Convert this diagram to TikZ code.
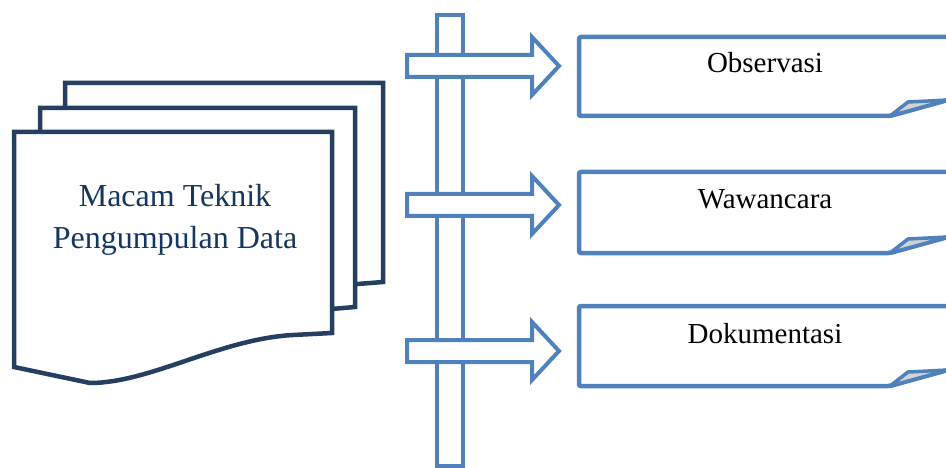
\documentclass[tikz,border=0pt]{standalone}
\usepackage{fontspec}
\setmainfont{Liberation Serif}
\usepackage{xcolor}
\usepackage{tikz}
\usetikzlibrary{positioning, calc}

\definecolor{navy}{HTML}{243F60}
\definecolor{navytext}{HTML}{17365D}
\definecolor{accent}{HTML}{4F81BD}

\begin{document}
\begin{tikzpicture}[x=1pt, y=-1pt,
  page/.style={draw=navy, line width=4.5pt, fill=white, line join=miter},
  bar/.style={draw=accent, line width=4pt, fill=white},
  blockarrow/.style={draw=accent, line width=4pt, fill=white, line join=miter},
  card/.style={draw=accent, line width=4.5pt, fill=white, rounded corners=2pt},
  fold/.style={draw=accent, line width=3.5pt, fill=gray!35, line join=round},
  cardtext/.style={font=\fontsize{29}{34}\selectfont, text=black, anchor=base},
  doctext/.style={font=\fontsize{32}{41.5}\selectfont, text=navytext, align=center},
]
\useasboundingbox (0,0) rectangle (946,468);
\clip (0,0) rectangle (946,468);

% ---- stacked pages ----
\draw[page] (65,83) -- (383,83) -- (383,282) -- (345,285) -- (65,285) -- cycle;
\draw[page] (40,108) -- (355,108) -- (355,307) -- (320,310) -- (40,310) -- cycle;
\draw[page] (14,132) -- (332,132) -- (332,333) -- (293,335)
  .. controls (220,339) and (150,383) .. (90,383) -- (14,367) -- cycle;
\node[doctext] (teknik) at (175,220) {Macam Teknik\\Pengumpulan Data};

% ---- bar ----
\draw[bar] (437,15) rectangle (463,466);

% ---- arrows ----
\foreach \y in {66, 205, 351} {
  \draw[blockarrow] (407,{\y-11}) -- (532,{\y-11}) -- (532,{\y-29}) -- (559,\y)
    -- (532,{\y+29}) -- (532,{\y+11}) -- (407,{\y+11}) -- cycle;
}

% ---- cards ----
\foreach \t/\b/\ty/\txt/\nm in {37/116/73/Observasi/obs,
                                 172/253/209/Wawancara/waw,
                                 306/386/343/Dokumentasi/dok} {
  \draw[card] (579,\t) -- (985,\t) -- (985,{\b-18}) -- (948,{\b-16}) -- (890,\b)
    -- (579,\b) -- cycle;
  \draw[fold] (890,\b) -- (908,{\b-14}) -- (948,{\b-16}) -- cycle;
  \node[cardtext] (\nm) at (765,\ty) {\txt};
}

\end{tikzpicture}
\end{document}
